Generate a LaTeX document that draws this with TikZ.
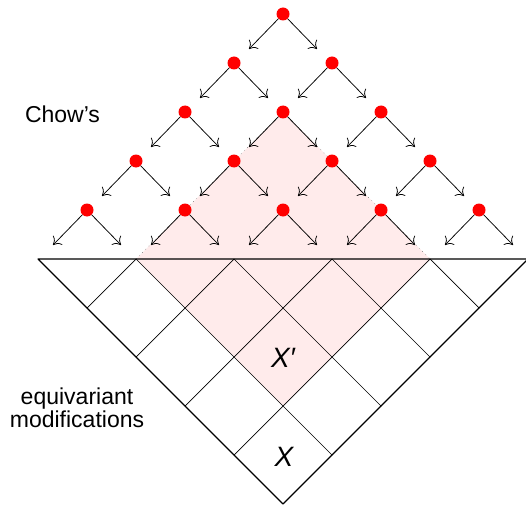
\documentclass[tikz,border=0pt]{standalone}
\usepackage{fontspec}
\setmainfont{Liberation Sans}
\usetikzlibrary{arrows.meta}

\begin{document}
\begin{tikzpicture}[x=1pt, y=-1pt, line cap=round, line join=round,
    arr/.style={line width=0.75pt, -{To[length=7pt,width=13pt]}},
    reddot/.style={circle, fill=red, inner sep=0pt, minimum size=13pt},
    gridln/.style={line width=0.7pt},
    rim/.style={line width=1.1pt},
    pinkfill/.style={fill=red!8},
    pinkrim/.style={line width=0.5pt, gray, loosely dotted},
    lab/.style={font=\fontsize{23}{22.5}\selectfont, align=center, inner sep=0pt},
    cell/.style={font=\fontsize{28}{30}\selectfont\itshape, inner sep=0pt}]

  \path[use as bounding box] (0,0) rectangle (526,505);

  % ── 三角网格：顶边 t0..t5、左斜边 l0..l5、右斜边 r0..r5（l5 = r5 = 底尖）──
  \foreach \j in {0,...,5} {
    \coordinate (t\j) at ({38+98*\j},259);
    \coordinate (l\j) at ({38+49*\j},{259+49*\j});
    \coordinate (r\j) at ({528-49*\j},{259+49*\j});
  }
  \coordinate (pt) at (283,112);
  \coordinate (pb) at (283,406);

  % ── 粉色菱形（上半截边为点线），先画，压在最底层 ──
  \fill[pinkfill] (pt) -- (t1) -- (pb) -- (t4) -- cycle;
  \draw[pinkrim] (t1) -- (pt) -- (t4);

  % ── 大三角与内部网格线 ──
  \draw[rim] (t0) -- (t5) -- (l5) -- cycle;
  \foreach \j [evaluate=\j as \m using int(5-\j)] in {1,...,4} {
    \draw[gridln] (t\j) -- (l\j);
    \draw[gridln] (t\j) -- (r\m);
  }

  % ── 5 行红点 d<行><列>，每点向左下、右下各一支箭头 ──
  \foreach \r in {0,...,4}
    \foreach \k in {0,...,\r} {
      \node[reddot] (d\r\k) at ({283+49*(2*\k-\r)},{14+49*\r}) {};
      \coordinate (e\r\k a) at ({283+49*(2*\k-\r)-34},{49+49*\r});
      \coordinate (e\r\k b) at ({283+49*(2*\k-\r)+34},{49+49*\r});
      \draw[arr] (d\r\k) -- (e\r\k a);
      \draw[arr] (d\r\k) -- (e\r\k b);
    }

  % ── 文字 ──
  \node[lab] (chow) at (62.5,114) {Chow’s};
  \node[lab] (equi) at (77,408) {equivariant\\modifications};
  \node[cell] (xp) at (283,358) {X′};
  \node[cell] (x) at (284,457) {X};
\end{tikzpicture}
\end{document}
